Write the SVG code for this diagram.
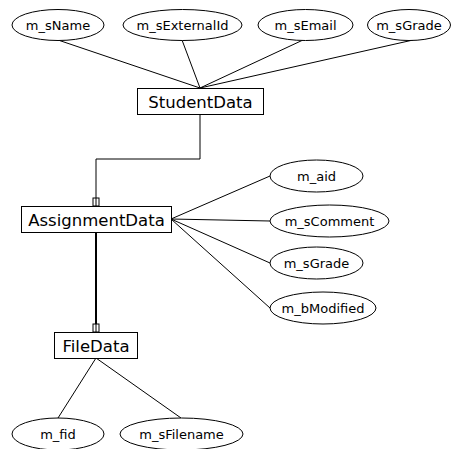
<svg xmlns="http://www.w3.org/2000/svg" width="453" height="449" viewBox="0 0 453 449">
<style>
.ent rect{fill:#fff;stroke:#000;stroke-width:1}
.ent text{font-family:"DejaVu Sans",sans-serif;font-size:16.5px;text-anchor:middle;fill:#000}
.att ellipse{fill:#fff;stroke:#000;stroke-width:1}
.att text{font-family:"DejaVu Sans",sans-serif;font-size:13px;text-anchor:middle;fill:#000}
.conn line,.conn polyline{stroke:#000;stroke-width:1;fill:none}
.conn .thick{stroke-width:2}
.mk{fill:#fff;stroke:#000;stroke-width:1}
</style>
<rect width="453" height="449" fill="#fff"/>
<g id="connectors" class="conn">
<line x1="58" y1="40" x2="200" y2="88"/>
<line x1="182" y1="40" x2="200" y2="88"/>
<line x1="303" y1="40" x2="200" y2="88"/>
<line x1="413" y1="40" x2="200" y2="88"/>
<polyline points="200,114 200,159 96,159 96,206"/>
<rect class="mk" x="93" y="198" width="6" height="8"/>
<line x1="96" y1="198" x2="96" y2="206"/>
<line class="thick" x1="96" y1="233" x2="96" y2="332"/>
<rect class="mk" x="93" y="324" width="6" height="8"/>
<line x1="96" y1="324" x2="96" y2="332"/>
<line x1="171" y1="219" x2="270" y2="176"/>
<line x1="171" y1="219" x2="270" y2="221"/>
<line x1="171" y1="219" x2="270" y2="263"/>
<line x1="171" y1="219" x2="270" y2="308"/>
<line x1="96" y1="358" x2="58" y2="418"/>
<line x1="96" y1="358" x2="181" y2="418"/>
</g>
<g id="StudentData" class="ent"><rect x="137.5" y="88.5" width="126" height="26"/><text x="200.5" y="107.5">StudentData</text></g>
<g id="AssignmentData" class="ent"><rect x="21.5" y="206.5" width="150" height="26"/><text x="96.5" y="225.5">AssignmentData</text></g>
<g id="FileData" class="ent"><rect x="54.5" y="332.5" width="83" height="26"/><text x="96" y="351.5">FileData</text></g>
<g id="attr_m_sName" class="att"><ellipse cx="58" cy="25" rx="46" ry="15.5"/><text x="58" y="29.5">m_sName</text></g>
<g id="attr_m_sExternalId" class="att"><ellipse cx="182.5" cy="25" rx="59.5" ry="15.5"/><text x="182.5" y="29.5">m_sExternalId</text></g>
<g id="attr_m_sEmail" class="att"><ellipse cx="305.5" cy="25" rx="47.5" ry="15.5"/><text x="305.5" y="29.5">m_sEmail</text></g>
<g id="attr_m_sGrade_s" class="att"><ellipse cx="409" cy="25" rx="41.5" ry="15.5"/><text x="409" y="29.5">m_sGrade</text></g>
<g id="attr_m_aid" class="att"><ellipse cx="316.5" cy="176" rx="46.5" ry="16"/><text x="316.5" y="180.5">m_aid</text></g>
<g id="attr_m_sComment" class="att"><ellipse cx="329.5" cy="221" rx="59.5" ry="16"/><text x="329.5" y="225.5">m_sComment</text></g>
<g id="attr_m_sGrade_a" class="att"><ellipse cx="316.5" cy="263" rx="46.5" ry="16"/><text x="316.5" y="267.5">m_sGrade</text></g>
<g id="attr_m_bModified" class="att"><ellipse cx="323" cy="308" rx="53" ry="16"/><text x="323" y="312.5">m_bModified</text></g>
<g id="attr_m_fid" class="att"><ellipse cx="58" cy="434" rx="46" ry="16"/><text x="58" y="438.5">m_fid</text></g>
<g id="attr_m_sFilename" class="att"><ellipse cx="181.5" cy="434" rx="61.5" ry="16"/><text x="181.5" y="438.5">m_sFilename</text></g>
</svg>
